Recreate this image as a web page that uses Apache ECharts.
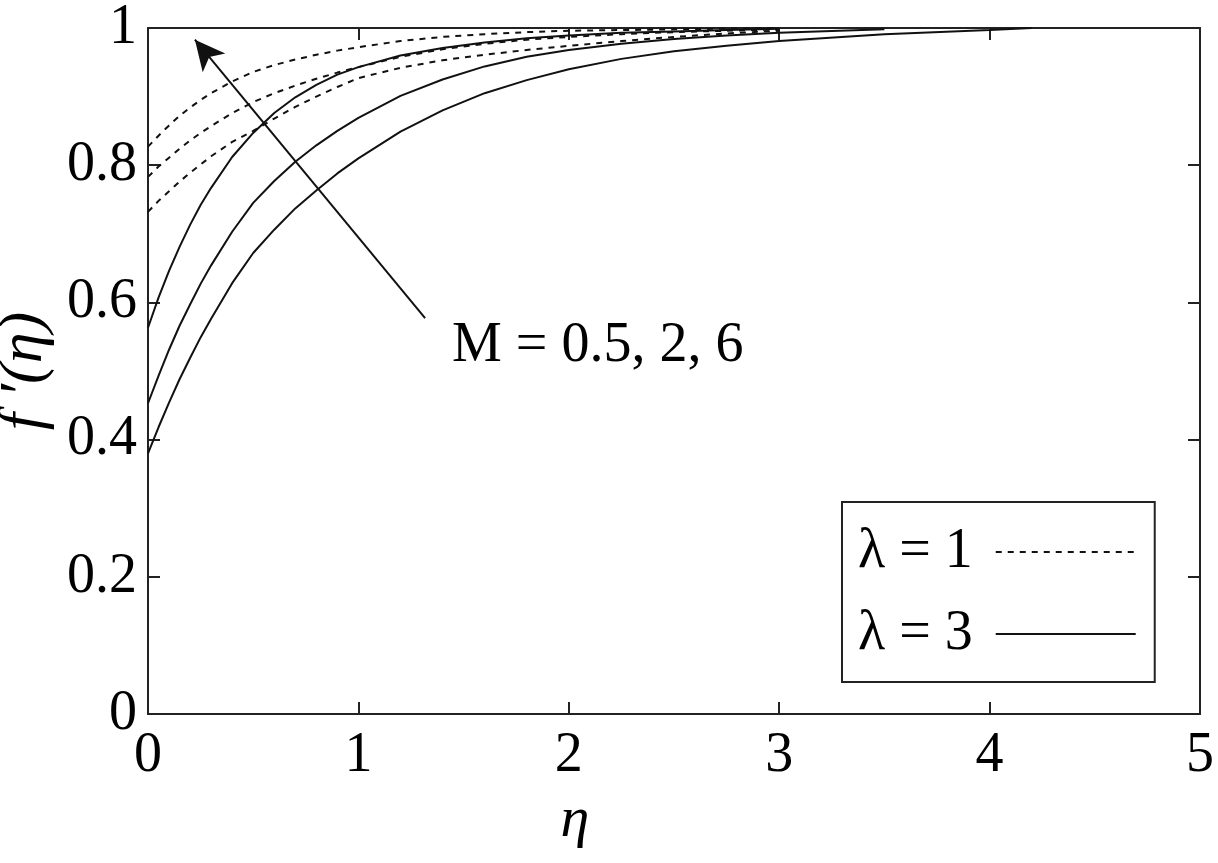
<!DOCTYPE html>
<html>
<head>
<meta charset="utf-8">
<script src="https://cdn.jsdelivr.net/npm/echarts@6/dist/echarts.min.js"></script>
<style>
html,body{margin:0;padding:0;background:#fff;}
#chart{width:1218px;height:863px;}
</style>
</head>
<body>
<div id="chart"></div>
<script>
// η grid (x values)
const eta = [0, 0.05, 0.1, 0.15, 0.2, 0.25, 0.3, 0.4, 0.5, 0.6, 0.7, 0.8, 0.9, 1.0,
             1.2, 1.4, 1.6, 1.8, 2.0, 2.25, 2.5, 2.75, 3.0, 3.5, 4.0, 4.2];
// λ = 1 (dashed), M = 6, 2, 0.5
const lam1M6  = [0.827, 0.843, 0.858, 0.872, 0.884, 0.895, 0.905, 0.922, 0.936, 0.946, 0.954, 0.961, 0.967, 0.972,
                 0.981, 0.987, 0.991, 0.994, 0.996, 0.997, 0.998, 0.999, 1.000, null, null, null];
const lam1M2  = [0.783, 0.798, 0.811, 0.824, 0.836, 0.847, 0.857, 0.876, 0.892, 0.905, 0.916, 0.926, 0.935, 0.943,
                 0.958, 0.969, 0.977, 0.983, 0.987, 0.991, 0.994, 0.996, 0.998, null, null, null];
const lam1M05 = [0.732, 0.748, 0.762, 0.776, 0.789, 0.801, 0.813, 0.834, 0.850, 0.868, 0.885, 0.900, 0.914, 0.927,
                 0.942, 0.953, 0.961, 0.968, 0.974, 0.981, 0.987, 0.992, 0.996, null, null, null];
// λ = 3 (solid), M = 6, 2, 0.5
const lam3M6  = [0.563, 0.607, 0.646, 0.681, 0.713, 0.742, 0.767, 0.812, 0.847, 0.876, 0.899, 0.917, 0.932, 0.943,
                 0.960, 0.971, 0.979, 0.985, 0.989, 0.993, 0.995, 0.997, 0.999, null, null, null];
const lam3M2  = [0.453, 0.493, 0.531, 0.566, 0.597, 0.627, 0.654, 0.703, 0.745, 0.777, 0.805, 0.829, 0.850, 0.869,
                 0.901, 0.925, 0.944, 0.958, 0.968, 0.977, 0.984, 0.989, 0.993, 0.998, null, null];
const lam3M05 = [0.380, 0.418, 0.454, 0.488, 0.519, 0.549, 0.576, 0.628, 0.672, 0.706, 0.737, 0.763, 0.788, 0.810,
                 0.849, 0.880, 0.905, 0.924, 0.940, 0.955, 0.966, 0.974, 0.981, 0.991, 0.997, 1.000];
// axis ticks
const xTicks = [0, 1, 2, 3, 4, 5];
const yTicks = [0, 0.2, 0.4, 0.6, 0.8, 1];
// legend labels
const legendNames = ['λ = 1', 'λ = 3'];
// arrow annotation (data coordinates: tail, head) and its label
const arrowTail = [1.317, 0.577];
const arrowHead = [0.223, 0.983];
const arrowText = 'M = 0.5, 2, 6';

const FONT = 'Liberation Serif';
const pairs = arr => eta.map((e, i) => arr[i] == null ? null : [e, arr[i]]).filter(p => p);

const dashed = { color: '#111', width: 2, type: [6, 6] };
const solid = { color: '#111', width: 2, type: 'solid' };

function mkSeries(name, arr, ls, extra) {
  return Object.assign({
    name: name,
    type: 'line',
    data: pairs(arr),
    symbol: 'none',
    smooth: false,
    lineStyle: ls,
    itemStyle: { color: '#111' },
    xAxisIndex: 0,
    yAxisIndex: 0
  }, extra || {});
}

const chart = echarts.init(document.getElementById('chart'));
const axisLine = { show: true, onZero: false, lineStyle: { color: '#222', width: 2 } };
const tickIn = { show: true, inside: true, length: 12, lineStyle: { color: '#222', width: 2 } };

chart.setOption({
  animation: false,
  backgroundColor: '#fff',
  grid: { left: 148, right: 18, top: 28, bottom: 149, containLabel: false, outerBoundsMode: 'none' },
  xAxis: [
    {
      type: 'value', min: 0, max: 5, interval: 1, position: 'bottom',
      axisLine: axisLine, axisTick: tickIn, splitLine: { show: false },
      axisLabel: { fontFamily: FONT, fontSize: 56, color: '#000', margin: 14,
        formatter: v => xTicks.includes(v) ? String(v) : '' },
      name: 'η', nameLocation: 'middle', nameGap: 78,
      nameTextStyle: { fontFamily: FONT, fontSize: 58, fontStyle: 'italic', color: '#000', padding: [0, 198, 0, 0] }
    },
    {
      type: 'value', min: 0, max: 5, interval: 1, position: 'top',
      axisLine: axisLine, axisTick: tickIn, axisLabel: { show: false }, splitLine: { show: false }
    }
  ],
  yAxis: [
    {
      type: 'value', min: 0, max: 1, interval: 0.2, position: 'left',
      axisLine: axisLine, axisTick: tickIn, splitLine: { show: false },
      axisLabel: { fontFamily: FONT, fontSize: 56, color: '#000', margin: 11,
        formatter: v => { const t = yTicks.find(y => Math.abs(y - v) < 1e-9); return t === undefined ? '' : String(t); } },
      name: 'f ′(η)', nameLocation: 'middle', nameRotate: 90, nameGap: 92,
      nameTextStyle: { fontFamily: FONT, fontSize: 62, fontStyle: 'italic', color: '#000' }
    },
    {
      type: 'value', min: 0, max: 1, interval: 0.2, position: 'right',
      axisLine: axisLine, axisTick: tickIn, axisLabel: { show: false }, splitLine: { show: false }
    }
  ],
  legend: {
    data: legendNames,
    orient: 'vertical',
    left: 842, top: 502,
    align: 'right',
    itemWidth: 140, itemHeight: 20, itemGap: 26,
    padding: [22, 18, 20, 16],
    borderColor: '#222', borderWidth: 2,
    backgroundColor: '#fff',
    selectedMode: false,
    itemStyle: { opacity: 0, borderWidth: 0 },
    textStyle: { fontFamily: FONT, fontSize: 56, color: '#000', padding: [0, 18, 0, 0] }
  },
  series: [
    mkSeries(legendNames[0], lam1M6, dashed),
    mkSeries(legendNames[0], lam1M2, dashed),
    mkSeries(legendNames[0], lam1M05, dashed),
    mkSeries(legendNames[1], lam3M6, solid),
    mkSeries(legendNames[1], lam3M2, solid),
    mkSeries(legendNames[1], lam3M05, solid, {
      markLine: {
        silent: true,
        symbol: ['none', 'arrow'],
        symbolSize: [22, 30],
        label: { show: false },
        lineStyle: { color: '#111', width: 2, type: 'solid' },
        data: [[{ coord: arrowTail }, { coord: arrowHead }]]
      }
    })
  ],
  graphic: [
    {
      type: 'text',
      left: 452, top: 318,
      style: { text: arrowText, font: '56px "Liberation Serif"', fill: '#000' }
    }
  ]
});
</script>
</body>
</html>
